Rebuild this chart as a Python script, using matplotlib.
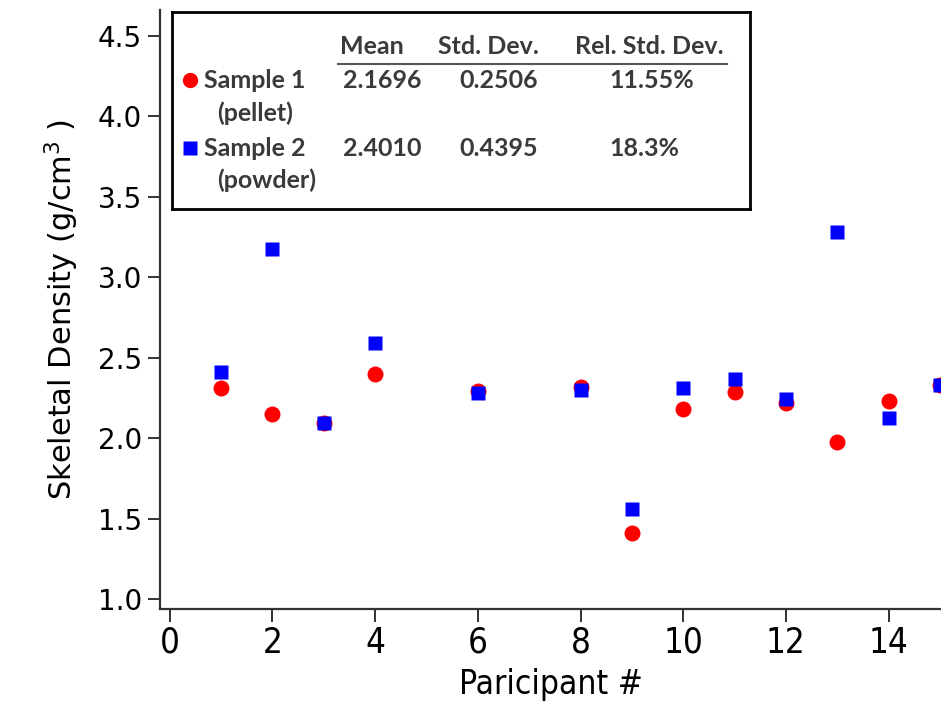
import matplotlib
matplotlib.use('Agg')
import matplotlib.pyplot as plt
import numpy as np

# participant numbers (5 and 7 missing)
participants = [1, 2, 3, 4, 6, 8, 9, 10, 11, 12, 13, 14, 15]
# skeletal density
pellet = [2.315, 2.153, 2.097, 2.398, 2.292, 2.320, 1.414, 2.182, 2.290, 2.221, 1.977, 2.231, 2.330]
powder = [2.410, 3.176, 2.095, 2.595, 2.281, 2.300, 1.559, 2.310, 2.368, 2.242, 3.282, 2.124, 2.330]

stat_cols = ['Mean', 'Std. Dev.', 'Rel. Std. Dev.']
pellet_stats = ['2.1696', '0.2506', '11.55%']
powder_stats = ['2.4010', '0.4395', '18.3%']

W, H = 941, 711
fig = plt.figure(figsize=(W / 100, H / 100), dpi=100)
ax = fig.add_axes([160 / W, (H - 609) / H, (W - 160) / W, (609 - 10) / H])

ax.plot(participants, pellet, 'o', color='#ff0000', ms=11.5, mec='none', zorder=3)
ax.plot(participants, powder, 's', color='#0000ff', ms=9.5, mec='none', zorder=4)

ax.set_xlim(-0.19, 15.02)
ax.set_ylim(0.94, 4.66)
ax.set_xticks(np.arange(0, 15, 2))
ax.set_yticks(np.arange(1.0, 4.51, 0.5))
ax.set_yticklabels(['%.1f' % v for v in np.arange(1.0, 4.51, 0.5)])

for s in ['top', 'right']:
    ax.spines[s].set_visible(False)
for s in ['left', 'bottom']:
    ax.spines[s].set_color('#333333')
    ax.spines[s].set_linewidth(1.6)
ax.tick_params(direction='out', length=9, width=1.4, color='#333333')
ax.tick_params(axis='y', labelsize=20, pad=4)
ax.tick_params(axis='x', labelsize=25, pad=3)
for lab in ax.get_xticklabels():
    lab.set_fontstretch('condensed')

ax.set_xlabel('Paricipant #', fontsize=24, fontstretch='condensed', labelpad=6)
ax.set_ylabel('Skeletal Density (g/cm$^{3}$ )', fontsize=22, labelpad=12)

# stats table box
leg = fig.add_axes([172 / W, (H - 209) / H, (750 - 172) / W, (209 - 12) / H])
leg.set_xlim(172, 750)
leg.set_ylim(209, 12)
leg.set_xticks([])
leg.set_yticks([])
for s in leg.spines.values():
    s.set_linewidth(2)
    s.set_color('black')

tc = '#3a3a3a'
fkw = dict(fontsize=18, fontweight='bold', color=tc, family='Lato', va='center')
leg.text(372, 46, stat_cols[0], ha='center', **fkw)
leg.text(488, 46, stat_cols[1], ha='center', **fkw)
leg.text(649, 46, stat_cols[2], ha='center', **fkw)
leg.plot([338, 727], [64, 64], color='#555555', lw=1.5)

leg.plot([190], [80], 'o', color='#ff0000', ms=11, mec='none')
leg.plot([190], [148], 's', color='#0000ff', ms=10, mec='none')
leg.text(204, 80, 'Sample 1', ha='left', **fkw)
leg.text(217, 113, '(pellet)', ha='left', **fkw)
leg.text(204, 148, 'Sample 2', ha='left', **fkw)
leg.text(217, 180, '(powder)', ha='left', **fkw)

for y, vals in [(80, pellet_stats), (148, powder_stats)]:
    leg.text(343, y, vals[0], ha='left', **fkw)
    leg.text(459, y, vals[1], ha='left', **fkw)
    leg.text(609, y, vals[2], ha='left', **fkw)

fig.savefig('out.png', dpi=100)
